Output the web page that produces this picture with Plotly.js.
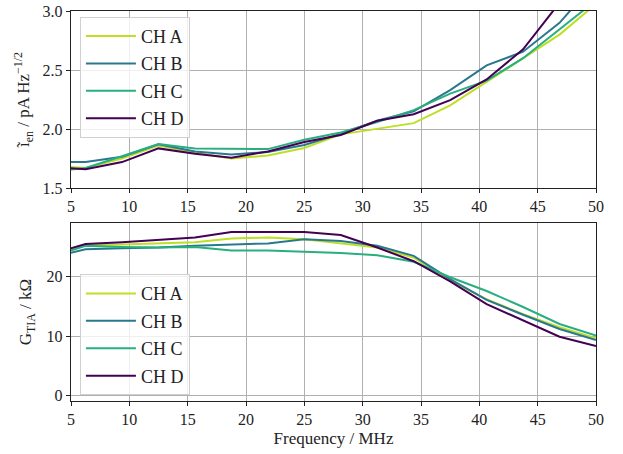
<!DOCTYPE html>
<html>
<head>
<meta charset="utf-8">
<script src="https://cdn.plot.ly/plotly-3.0.1.min.js"></script>
<style>html,body{margin:0;padding:0;background:#fff}#chart{width:623px;height:454px}</style>
</head>
<body>
<div id="chart"></div>
<script>
// Frequency points (MHz)
const freq = [3.125, 6.25, 9.375, 12.5, 15.625, 18.75, 21.875, 25, 28.125, 31.25, 34.375, 37.5, 40.625, 43.75, 46.875, 50];
const channels = ["CH A", "CH B", "CH C", "CH D"];
const colors = ["#bddf26", "#2a788e", "#29af7f", "#440154"];

// Input-referred current noise density (pA/sqrt(Hz))
const noiseA = [1.69, 1.67, 1.75, 1.86, 1.80, 1.75, 1.775, 1.84, 1.955, 2.00, 2.05, 2.20, 2.40, 2.60, 2.80, 3.06];
const noiseB = [1.72, 1.72, 1.765, 1.87, 1.81, 1.785, 1.805, 1.865, 1.96, 2.07, 2.15, 2.33, 2.54, 2.655, 2.90, 3.25];
const noiseC = [1.64, 1.67, 1.77, 1.873, 1.836, 1.83, 1.83, 1.91, 1.97, 2.06, 2.16, 2.30, 2.41, 2.60, 2.85, 3.09];
const noiseD = [1.68, 1.66, 1.72, 1.836, 1.79, 1.757, 1.81, 1.89, 1.95, 2.07, 2.125, 2.245, 2.42, 2.675, 3.07, 3.5];

// Transimpedance gain (kOhm)
const gainA = [23.5, 25.3, 25.4, 25.6, 25.8, 26.4, 26.6, 26.3, 25.6, 24.9, 23.2, 19.4, 16.2, 13.7, 11.5, 9.65];
const gainB = [23.2, 24.6, 24.8, 24.9, 25.2, 25.4, 25.6, 26.3, 26.0, 25.2, 23.5, 19.6, 16.1, 13.6, 11.2, 9.35];
const gainC = [23.2, 25.2, 25.0, 24.9, 25.0, 24.4, 24.4, 24.2, 24.0, 23.6, 22.5, 19.9, 17.6, 14.9, 12.05, 10.1];
const gainD = [23.7, 25.5, 25.8, 26.2, 26.6, 27.5, 27.5, 27.5, 27.0, 24.9, 22.6, 19.2, 15.4, 12.6, 9.9, 8.35];

const noise = [noiseA, noiseB, noiseC, noiseD];
const gain = [gainA, gainB, gainC, gainD];

const traces = [];
channels.forEach((name, i) => {
  traces.push({x: freq, y: noise[i], name: name, type: 'scatter', mode: 'lines',
    line: {color: colors[i], width: 2}, xaxis: 'x', yaxis: 'y', legend: 'legend',
    legendgroup: 'n' + i});
});
channels.forEach((name, i) => {
  traces.push({x: freq, y: gain[i], name: name, type: 'scatter', mode: 'lines',
    line: {color: colors[i], width: 2}, xaxis: 'x2', yaxis: 'y2', legend: 'legend2',
    legendgroup: 'g' + i});
});

const FAM = '"Liberation Serif", "DejaVu Serif", serif';
const font = {family: FAM, size: 15, color: '#222'};
const axisCommon = {
  showline: true, mirror: true, linecolor: '#222', linewidth: 1.2,
  ticks: 'outside', ticklen: 4, tickcolor: '#222', tickwidth: 1,
  showgrid: true, gridcolor: '#b0b0b0', gridwidth: 1, zeroline: false,
  tickfont: {family: FAM, size: 16, color: '#222'}
};
const legendCommon = {
  x: 0.017, xanchor: 'left', bgcolor: 'rgba(255,255,255,0.8)',
  bordercolor: '#d0d0d0', borderwidth: 1, font: {family: FAM, size: 18, color: '#222'},
  tracegroupgap: 1, itemwidth: 50
};

const layout = {
  width: 623, height: 454,
  margin: {l: 71, r: 27, t: 11, b: 53},
  paper_bgcolor: '#fff', plot_bgcolor: '#fff',
  font: font,
  showlegend: true,
  xaxis: Object.assign({}, axisCommon, {domain: [0, 1], anchor: 'y', range: [5, 50],
    tickvals: [5, 10, 15, 20, 25, 30, 35, 40, 45, 50]}),
  yaxis: Object.assign({}, axisCommon, {domain: [0.546, 1], anchor: 'x', range: [1.5, 3.0],
    tickvals: [1.5, 2.0, 2.5, 3.0], tickformat: '.1f',
    title: {text: 'ĩ<sub>en</sub> / pA Hz<sup>−1/2</sup>', font: {family: FAM, size: 17, color: '#222'}, standoff: 8}}),
  xaxis2: Object.assign({}, axisCommon, {domain: [0, 1], anchor: 'y2', range: [5, 50],
    tickvals: [5, 10, 15, 20, 25, 30, 35, 40, 45, 50],
    title: {text: 'Frequency / MHz', font: {family: FAM, size: 17, color: '#222'}, standoff: 4}}),
  yaxis2: Object.assign({}, axisCommon, {domain: [0, 0.456], anchor: 'x2', range: [-0.9, 29],
    tickvals: [0, 10, 20],
    title: {text: 'G<sub>TIA</sub> / kΩ', font: {family: FAM, size: 17, color: '#222'}, standoff: 10}}),
  legend: Object.assign({}, legendCommon, {y: 0.985, yanchor: 'top'}),
  legend2: Object.assign({}, legendCommon, {y: 0.325, yanchor: 'top'})
};

Plotly.newPlot('chart', traces, layout, {displayModeBar: false, staticPlot: true});
</script>
</body>
</html>
